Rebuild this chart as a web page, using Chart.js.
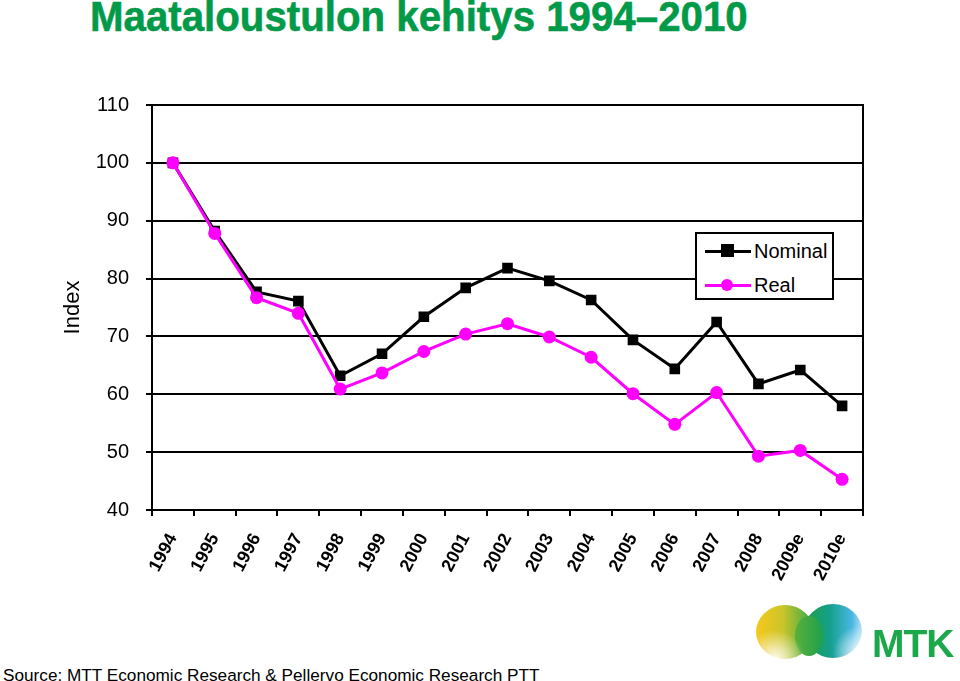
<!DOCTYPE html>
<html>
<head>
<meta charset="utf-8">
<script src="https://cdn.jsdelivr.net/npm/chart.js@4.4.1/dist/chart.umd.min.js"></script>
<style>
  body { margin: 0; background: #fff; width: 960px; height: 681px; overflow: hidden; position: relative; font-family: "Liberation Sans", Arial, sans-serif; }
  #title { position: absolute; left: 90px; top: -8px; font-family: "Liberation Sans Narrow", "Arial Narrow", "Liberation Sans", Arial, sans-serif; font-weight: bold; font-size: 43px; color: #009a49; -webkit-text-stroke: 0.6px #009a49; white-space: nowrap; transform-origin: 0 0; }
  #wrap { position: absolute; left: 0; top: 0; width: 960px; height: 620px; }
  #legend { position: absolute; left: 695px; top: 232px; width: 135px; height: 64px; border: 2px solid #000; background: #fff; }
  .row { position: absolute; left: 0; height: 24px; width: 135px; }
  .row .ln { position: absolute; left: 8px; top: 11px; width: 46px; height: 3px; }
  .row .mk { position: absolute; }
  .row span { position: absolute; left: 57px; top: 0; font-size: 20px; line-height: 24px; color: #000; }
  #source { position: absolute; left: 3px; top: 665px; font-size: 17.2px; color: #000; white-space: nowrap; }
  #mtk { position: absolute; left: 872px; top: 622px; font-weight: bold; font-size: 39px; color: #1ba84a; letter-spacing: -1px; }
  #logo { position: absolute; left: 745px; top: 598px; }
</style>
</head>
<body>
<div id="title">Maataloustulon kehitys 1994–2010</div>
<div id="wrap"><canvas id="grafico" width="960" height="620"></canvas></div>
<div id="legend">
  <div class="row" style="top:5px">
    <div class="ln" style="background:#000"></div>
    <div class="mk" style="left:24px;top:5px;width:13px;height:13px;background:#000"></div>
    <span>Nominal</span>
  </div>
  <div class="row" style="top:39px">
    <div class="ln" style="background:#ff00ff"></div>
    <div class="mk" style="left:24px;top:6px;width:12px;height:12px;border-radius:50%;background:#ff00ff"></div>
    <span>Real</span>
  </div>
</div>
<canvas id="logo" width="125" height="70"></canvas>
<div id="mtk">MTK</div>
<div id="source">Source: MTT Economic Research &amp; Pellervo Economic Research PTT</div>
<script>
// Datos
const years = ['1994', '1995', '1996', '1997', '1998', '1999', '2000', '2001', '2002',
    '2003', '2004', '2005', '2006', '2007', '2008', '2009e', '2010e'];
const nominal = [100, 88.2, 77.7, 76.1, 63.2, 67.0, 73.4, 78.4, 81.8, 79.6, 76.3, 69.4, 64.4, 72.5, 61.8, 64.2, 58.0];
const real = [100, 87.8, 76.7, 74.0, 60.9, 63.7, 67.4, 70.4, 72.2, 69.9, 66.4, 60.1, 54.8, 60.3, 49.3, 50.3, 45.3];
const yMin = 40, yMax = 110, yStep = 10;

// Ajustar ancho del título (fuente estrecha)
const title = document.getElementById('title');
title.style.transform = 'scaleX(' + (658 / title.offsetWidth) + ')';

// Logo aproximado
const lc = document.getElementById('logo').getContext('2d');
let g = lc.createLinearGradient(12, 0, 70, 0);
g.addColorStop(0, '#f6c81c');
g.addColorStop(0.45, '#c9c52a');
g.addColorStop(1, '#2aa84a');
lc.fillStyle = g;
lc.beginPath();
lc.ellipse(40, 34, 29, 27, 0, 0, Math.PI * 2);
lc.fill();
g = lc.createLinearGradient(62, 0, 118, 0);
g.addColorStop(0, '#1e9f4a');
g.addColorStop(0.4, '#14a08c');
g.addColorStop(0.8, '#48b6e2');
g.addColorStop(1, '#bfe4f4');
lc.fillStyle = g;
lc.beginPath();
lc.ellipse(88, 33, 29, 27, 0, 0, Math.PI * 2);
lc.fill();
g = lc.createLinearGradient(50, 0, 80, 0);
g.addColorStop(0, '#58b03a');
g.addColorStop(1, '#1b9f4e');
lc.fillStyle = g;
lc.beginPath();
lc.ellipse(64, 38, 14, 20, 0, 0, Math.PI * 2);
lc.fill();
// desvanecido blanco abajo
g = lc.createRadialGradient(30, 62, 2, 30, 62, 30);
g.addColorStop(0, 'rgba(255,255,255,0.9)');
g.addColorStop(1, 'rgba(255,255,255,0)');
lc.fillStyle = g;
lc.fillRect(0, 0, 125, 70);
g = lc.createRadialGradient(116, 55, 2, 116, 55, 28);
g.addColorStop(0, 'rgba(255,255,255,0.9)');
g.addColorStop(1, 'rgba(255,255,255,0)');
lc.fillStyle = g;
lc.fillRect(0, 0, 125, 70);

Chart.defaults.font.family = '"Liberation Sans", Arial, sans-serif';
Chart.defaults.color = '#000';

const ctx = document.getElementById('grafico').getContext('2d');
const myChart = new Chart(ctx, {
    type: 'line',
    data: {
        labels: years,
        datasets: [{
            label: 'Nominal',
            data: nominal,
            borderColor: '#000',
            backgroundColor: '#000',
            borderWidth: 3,
            pointStyle: 'rect',
            pointRadius: 7.5,
            pointBorderWidth: 0,
            tension: 0,
            order: 2
        }, {
            label: 'Real',
            data: real,
            borderColor: '#ff00ff',
            backgroundColor: '#ff00ff',
            borderWidth: 3,
            pointStyle: 'circle',
            pointRadius: 6.5,
            pointBorderWidth: 0,
            tension: 0,
            order: 1
        }]
    },
    options: {
        responsive: false,
        animation: false,
        layout: { padding: { left: 56, right: 97, top: 105, bottom: 30 } },
        plugins: { legend: { display: false }, tooltip: { enabled: false } },
        scales: {
            x: {
                offset: true,
                grid: { offset: true, drawOnChartArea: false, color: '#000', lineWidth: 2, tickLength: 6 },
                border: { color: '#000', width: 2 },
                ticks: { font: { size: 18, weight: 'bold' }, minRotation: 62, maxRotation: 62, padding: 14, autoSkip: false },
                afterFit: s => { s.height = 80; }
            },
            y: {
                min: yMin,
                max: yMax,
                grid: { color: '#000', lineWidth: 2, tickLength: 6 },
                border: { color: '#000', width: 2 },
                ticks: { stepSize: yStep, font: { size: 20 }, padding: 17 },
                title: { display: true, text: 'Index', font: { size: 22 } },
                afterFit: s => { s.width = 96; }
            },
            y2: {
                position: 'right',
                min: yMin,
                max: yMax,
                grid: { drawOnChartArea: false, drawTicks: false },
                border: { color: '#000', width: 2 },
                ticks: { display: false },
                afterFit: s => { s.width = 0; }
            }
        }
    }
});
</script>
</body>
</html>
